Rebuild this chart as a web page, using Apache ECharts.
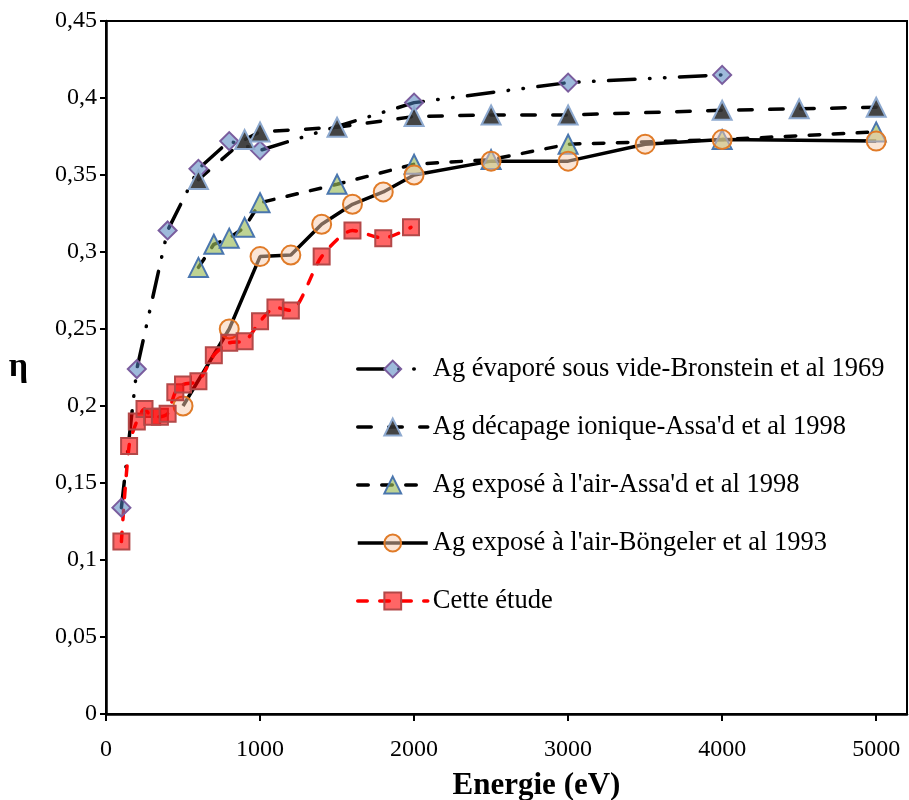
<!DOCTYPE html>
<html>
<head>
<meta charset="utf-8">
<script src="https://cdn.jsdelivr.net/npm/echarts@6/dist/echarts.min.js"></script>
<style>
  html, body { margin: 0; padding: 0; background: #fff; }
  #chart { width: 909px; height: 800px; }
</style>
</head>
<body>
<div id="chart"></div>
<script>
// Electron yield η versus primary energy for silver

const seriesNames = [
  "Ag évaporé sous vide-Bronstein et al 1969",
  "Ag décapage ionique-Assa'd et al 1998",
  "Ag exposé à l'air-Assa'd et al 1998",
  "Ag exposé à l'air-Böngeler et al 1993",
  "Cette étude"
];

const energyBronstein = [100, 200, 400, 600, 800, 1000, 2000, 3000, 4000];
const etaBronstein    = [0.134, 0.224, 0.314, 0.354, 0.372, 0.366, 0.397, 0.410, 0.415];

const energyAssadIon = [600, 900, 1000, 1500, 2000, 2500, 3000, 4000, 4500, 5000];
const etaAssadIon    = [0.347, 0.373, 0.378, 0.381, 0.388, 0.389, 0.389, 0.392, 0.393, 0.394];

const energyAssadAir = [600, 700, 800, 900, 1000, 1500, 2000, 2500, 3000, 4000, 5000];
const etaAssadAir    = [0.290, 0.305, 0.309, 0.316, 0.332, 0.344, 0.357, 0.360, 0.370, 0.373, 0.378];

const energyBongeler = [500, 800, 1000, 1200, 1400, 1600, 1800, 2000, 2500, 3000, 3500, 4000, 5000];
const etaBongeler    = [0.200, 0.250, 0.297, 0.298, 0.318, 0.331, 0.339, 0.350, 0.359, 0.359, 0.370, 0.373, 0.372];

const energyStudy = [100, 150, 200, 250, 300, 350, 400, 450, 500, 600, 700, 800, 900, 1000, 1100, 1200, 1400, 1600, 1800, 1980];
const etaStudy    = [0.112, 0.174, 0.190, 0.198, 0.193, 0.193, 0.195, 0.209, 0.214, 0.216, 0.233, 0.241, 0.242, 0.255, 0.264, 0.262, 0.297, 0.314, 0.309, 0.316];

const xTicks = [0, 1000, 2000, 3000, 4000, 5000];
const yTicks = [0, 0.05, 0.1, 0.15, 0.2, 0.25, 0.3, 0.35, 0.4, 0.45];

const pairs = (xs, ys) => xs.map((x, i) => [x, ys[i]]);
const serif = "'Liberation Serif', 'Times New Roman', serif";

const chart = echarts.init(document.getElementById('chart'), null, { renderer: 'canvas' });

chart.setOption({
  animation: false,
  backgroundColor: '#ffffff',
  textStyle: { fontFamily: serif, color: '#000' },
  grid: {
    left: 106, right: 2, top: 21, bottom: 86,
    outerBoundsMode: 'none', containLabel: false,
    show: true, borderColor: '#000', borderWidth: 2, backgroundColor: 'transparent'
  },
  legend: {
    orient: 'vertical',
    left: 356, top: 355, padding: 0,
    itemWidth: 70, itemHeight: 21, itemGap: 30,
    lineStyle: { width: 3.5 },
    textStyle: { fontFamily: serif, fontSize: 26.5, color: '#000', lineHeight: 28 },
    data: seriesNames
  },
  xAxis: {
    type: 'value', min: 0, max: 5200, interval: 1000,
    name: 'Energie (eV)', nameLocation: 'middle', nameGap: 56,
    nameTextStyle: { fontFamily: serif, fontSize: 31, fontWeight: 'bold', color: '#000', padding: [0, 0, 0, 60] },
    axisLine: { show: true, onZero: false, lineStyle: { color: '#000', width: 2.5 } },
    axisTick: { show: true, inside: false, length: 7, customValues: xTicks, lineStyle: { color: '#000', width: 2 } },
    axisLabel: {
      customValues: xTicks, margin: 24, fontFamily: serif, fontSize: 24, color: '#000',
      formatter: v => String(Math.round(v))
    },
    splitLine: { show: false }
  },
  yAxis: {
    type: 'value', min: 0, max: 0.45, interval: 0.05,
    name: 'η', nameLocation: 'middle', nameRotate: 0, nameGap: 78,
    nameTextStyle: { fontFamily: serif, fontSize: 34, fontWeight: 'bold', color: '#000' },
    axisLine: { show: true, onZero: false, lineStyle: { color: '#000', width: 2.5 } },
    axisTick: { show: true, inside: false, length: 6, customValues: yTicks, lineStyle: { color: '#000', width: 2 } },
    axisLabel: {
      customValues: yTicks, margin: 9, fontFamily: serif, fontSize: 24, color: '#000',
      formatter: v => String(+v.toFixed(2)).replace('.', ',')
    },
    splitLine: { show: false }
  },
  series: [
    {
      name: seriesNames[0], type: 'line',
      data: pairs(energyBronstein, etaBronstein),
      symbol: 'diamond', symbolSize: 18,
      lineStyle: { color: '#000', width: 3.5, type: [26.5, 14.5, 0.5, 14.5, 0.5, 14.5], cap: 'round' },
      itemStyle: { color: 'rgba(79,129,189,0.55)', borderColor: '#7A5D9E', borderWidth: 2 }
    },
    {
      name: seriesNames[1], type: 'line',
      data: pairs(energyAssadIon, etaAssadIon),
      symbol: 'triangle', symbolSize: 19,
      lineStyle: { color: '#000', width: 3.5, type: [13.5, 17.5], cap: 'round' },
      itemStyle: { color: 'rgba(48,48,48,0.9)', borderColor: '#8DA9CF', borderWidth: 2 }
    },
    {
      name: seriesNames[2], type: 'line',
      data: pairs(energyAssadAir, etaAssadAir),
      symbol: 'triangle', symbolSize: 19,
      lineStyle: { color: '#000', width: 3.5, type: [10.5, 13.5], cap: 'round' },
      itemStyle: { color: 'rgba(155,187,89,0.65)', borderColor: '#4A76AE', borderWidth: 2 }
    },
    {
      name: seriesNames[3], type: 'line',
      data: pairs(energyBongeler, etaBongeler),
      symbol: 'circle', symbolSize: 19,
      lineStyle: { color: '#000', width: 3.5, type: 'solid' },
      itemStyle: { color: 'rgba(248,203,173,0.5)', borderColor: '#E07B28', borderWidth: 2 }
    },
    {
      name: seriesNames[4], type: 'line',
      data: pairs(energyStudy, etaStudy),
      symbol: 'rect', symbolSize: 16, smooth: 0.25,
      lineStyle: { color: '#FF0000', width: 3.5, type: [9.5, 12.5], cap: 'round' },
      itemStyle: { color: 'rgba(255,0,0,0.6)', borderColor: '#B34848', borderWidth: 2 }
    }
  ]
});
</script>
</body>
</html>
